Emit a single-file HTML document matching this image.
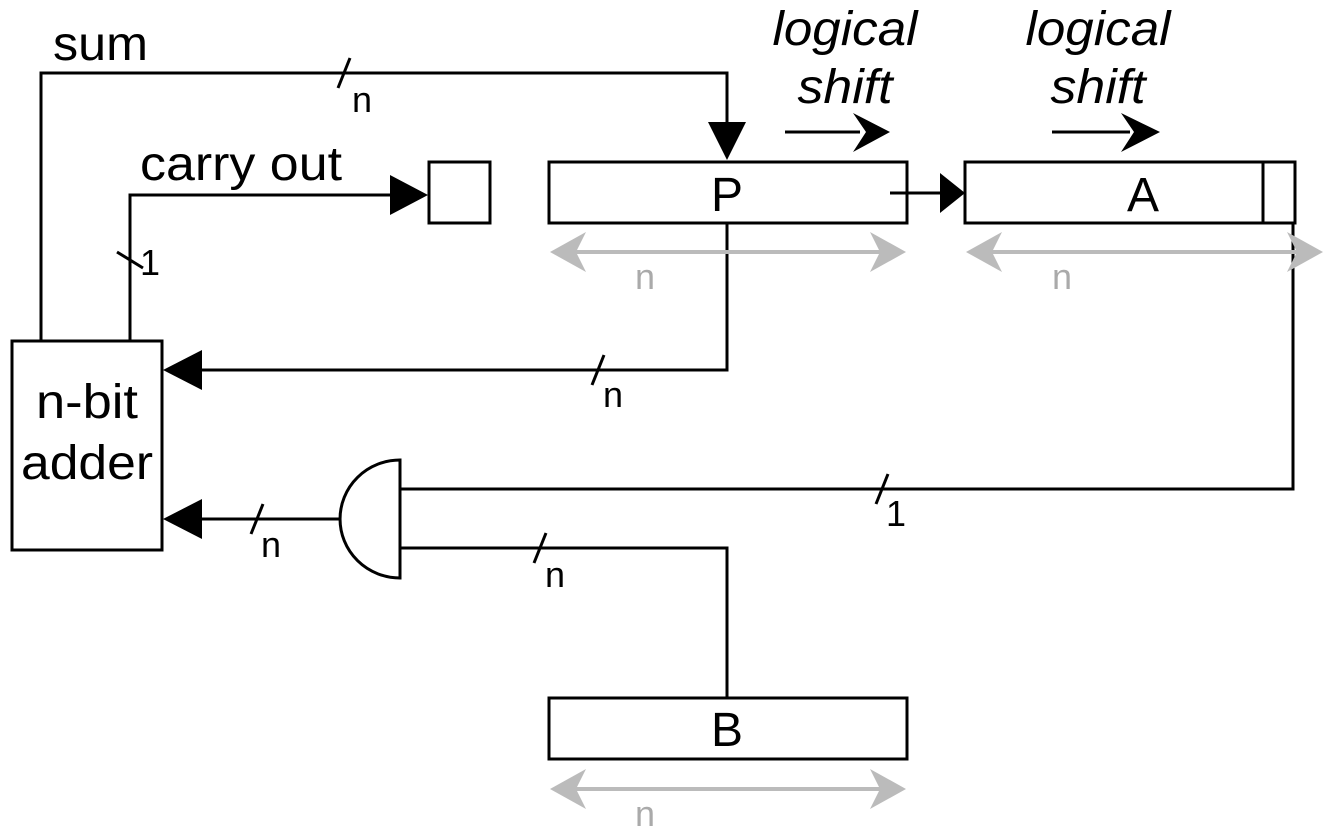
<!DOCTYPE html>
<html><head><meta charset="utf-8"><style>
html,body{margin:0;padding:0;background:#fff;}
svg{display:block;}
text{font-family:"Liberation Sans",sans-serif;}
</style></head><body>
<svg width="1334" height="827" viewBox="0 0 1334 827" xmlns="http://www.w3.org/2000/svg">
<g fill="none" stroke="#000" stroke-width="3">
  <rect x="12" y="341" width="150" height="209"/>
  <rect x="429" y="162" width="61" height="61"/>
  <rect x="549" y="162" width="358" height="61"/>
  <rect x="965" y="162" width="330" height="61"/>
  <line x1="1263" y1="162" x2="1263" y2="223"/>
  <rect x="549" y="698" width="358" height="61"/>
  <polyline points="41,341 41,73 727,73 727,125"/>
  <polyline points="130,341 130,195 392,195"/>
  <line x1="890" y1="193" x2="942" y2="193"/>
  <polyline points="727,223 727,370 200,370"/>
  <polyline points="1293,223 1293,489 400,489"/>
  <polyline points="727,698 727,548 400,548"/>
  <line x1="340" y1="519" x2="200" y2="519"/>
  <path d="M400,460 L400,578 A60,59 0 0 1 400,460 Z" fill="#fff"/>
  <line x1="785" y1="132" x2="860" y2="132"/>
  <line x1="1052" y1="132" x2="1130" y2="132"/>
  <line x1="338" y1="88" x2="350" y2="58"/>
  <line x1="117" y1="252" x2="143" y2="268"/>
  <line x1="592" y1="385" x2="604" y2="355"/>
  <line x1="876" y1="504" x2="888" y2="474"/>
  <line x1="251" y1="534" x2="263" y2="504"/>
  <line x1="534" y1="563" x2="546" y2="533"/>
</g>
<g fill="#000">
  <polygon points="727,160 708,122 746,122"/>
  <polygon points="428,195 390,175 390,215"/>
  <polygon points="965,193 940,173 940,213"/>
  <polygon points="163,370 202,350 202,390"/>
  <polygon points="163,519 202,499 202,539"/>
  <polygon points="890,132 853,113 866,132 853,152"/>
  <polygon points="1160,132 1121,113 1134,132 1121,152"/>
</g>
<g stroke="#bbb" stroke-width="4" fill="#bbb">
  <line x1="560" y1="252" x2="895" y2="252"/>
  <line x1="976" y1="252" x2="1312" y2="252"/>
  <line x1="560" y1="789" x2="895" y2="789"/>
</g>
<g fill="#bbb">
  <polygon points="550,252 586,232 576,252 586,272"/>
  <polygon points="906,252 870,232 880,252 870,272"/>
  <polygon points="966,252 1002,232 992,252 1002,272"/>
  <polygon points="1323,252 1287,232 1297,252 1287,272"/>
  <polygon points="550,789 586,769 576,789 586,809"/>
  <polygon points="906,789 870,769 880,789 870,809"/>
</g>
<g fill="#000" font-size="48">
  <text x="53" y="60" textLength="95" lengthAdjust="spacingAndGlyphs">sum</text>
  <text x="140" y="180" textLength="202" lengthAdjust="spacingAndGlyphs">carry out</text>
  <text x="727" y="211" text-anchor="middle">P</text>
  <text x="1143" y="211" text-anchor="middle">A</text>
  <text x="727" y="746" text-anchor="middle">B</text>
  <text x="87" y="418" text-anchor="middle" textLength="102" lengthAdjust="spacingAndGlyphs">n-bit</text>
  <text x="87" y="479" text-anchor="middle" textLength="132" lengthAdjust="spacingAndGlyphs">adder</text>
  <text x="845" y="45" text-anchor="middle" font-style="italic" textLength="145" lengthAdjust="spacingAndGlyphs">logical</text>
  <text x="845" y="103" text-anchor="middle" font-style="italic" textLength="95" lengthAdjust="spacingAndGlyphs">shift</text>
  <text x="1098" y="45" text-anchor="middle" font-style="italic" textLength="145" lengthAdjust="spacingAndGlyphs">logical</text>
  <text x="1098" y="103" text-anchor="middle" font-style="italic" textLength="95" lengthAdjust="spacingAndGlyphs">shift</text>
</g>
<g fill="#000" font-size="36">
  <text x="352" y="112">n</text>
  <text x="140" y="275">1</text>
  <text x="603" y="407">n</text>
  <text x="886" y="526">1</text>
  <text x="261" y="557">n</text>
  <text x="545" y="587">n</text>
</g>
<g fill="#aaa" font-size="36" text-anchor="middle">
  <text x="645" y="289">n</text>
  <text x="1062" y="289">n</text>
  <text x="645" y="826">n</text>
</g>
</svg>
</body></html>
